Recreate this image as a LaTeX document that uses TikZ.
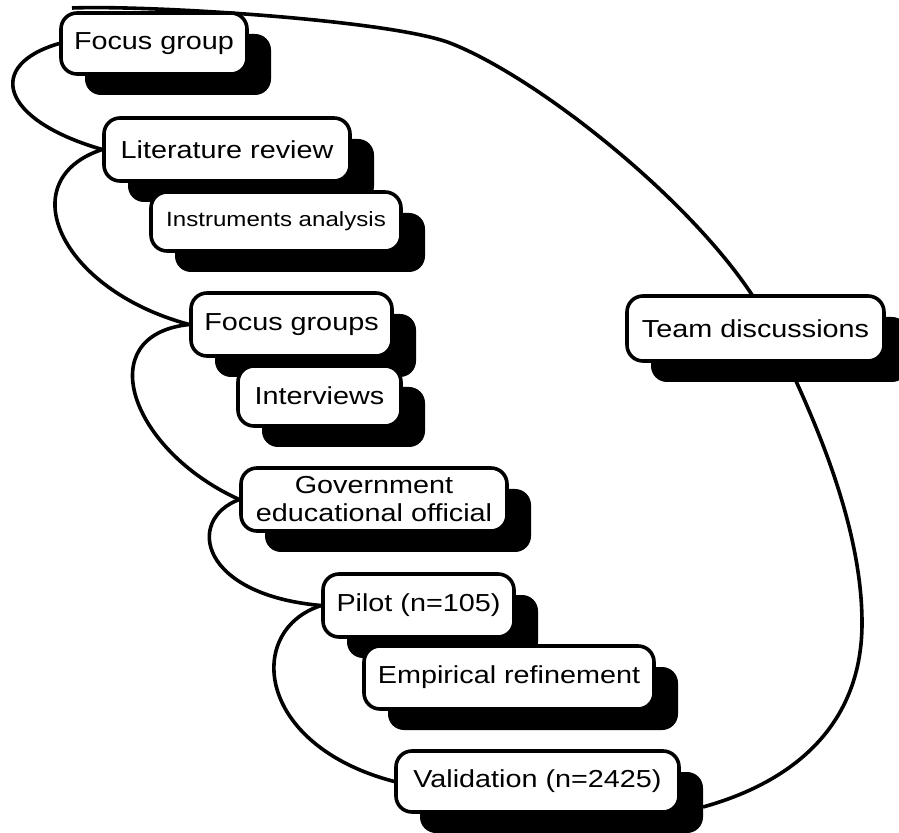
\documentclass[tikz,border=0pt]{standalone}
\usepackage{fontspec}
\setmainfont{Liberation Sans}[FakeStretch = 1.17]
\usetikzlibrary{shadows, backgrounds}

\begin{document}
\begin{tikzpicture}[x = 0.5pt, y = -0.5pt,
	phase/.style = {draw, line width = 1.8pt, fill = white, rounded corners = 8pt,
		align = center, inner sep = 0pt, font = \fontsize{12.3}{14}\selectfont,
		drop shadow = {shadow xshift = 12pt, shadow yshift = -10.5pt, fill = black, opacity = 1}},
	link/.style = {line width = 1.8pt}]

	\useasboundingbox (0, 0) rectangle (899, 833);

	% Boxes

	\node [phase, minimum width = 93pt, minimum height = 30.5pt] (focus) at (154, 43.5) {Focus group};
	\node [phase, minimum width = 123pt, minimum height = 31.5pt] (litrev) at (227, 149.5) {Literature review};
	\node [phase, minimum width = 125pt, minimum height = 29.5pt, font = \fontsize{10.3}{12}\selectfont] (instr) at (276, 221.5) {Instruments analysis};
	\node [phase, minimum width = 100.5pt, minimum height = 31.5pt] (groups) at (291.5, 324.5) {Focus groups};
	\node [phase, minimum width = 81.5pt, minimum height = 30pt] (interv) at (319.5, 396) {Interviews};
	\node [phase, minimum width = 133pt, minimum height = 31.5pt] (gov) at (374, 499.5) {Government\\educational official};
	\node [phase, minimum width = 95.5pt, minimum height = 31.5pt] (pilot) at (418.5, 605.5) {Pilot (n=105)};
	\node [phase, minimum width = 145pt, minimum height = 31.5pt] (empir) at (509, 677.5) {Empirical refinement};
	\node [phase, minimum width = 141.5pt, minimum height = 30.5pt] (valid) at (537.5, 781.5) {Validation (n=2425)};
	\node [phase, minimum width = 128.5pt, minimum height = 32.5pt] (team) at (755.5, 328.5) {Team discussions};

	% Loop points

	\coordinate (loopstart) at (72, 8);
	\coordinate (looptop) at (450, 43);
	\coordinate (loopmid) at (771, 328);
	\coordinate (loopright) at (862, 623);
	\coordinate (loopend) at (703, 807);

	% Links

	\begin{scope}[on background layer]
		\draw [link] (focus.west) .. controls (-15, 65) and (0, 120) .. (litrev.west);
		\draw [link] (litrev.west) .. controls (10, 180) and (60, 290) .. (groups.west);
		\draw [link] (groups.west) .. controls (90, 335) and (130, 450) .. (gov.west);
		\draw [link] (gov.west) .. controls (185, 520) and (200, 595) .. (pilot.west);
		\draw [link] (pilot.west) .. controls (245, 630) and (255, 745) .. (valid.west);

		\draw [link] (loopstart) .. controls (150, 5) and (390, 20) .. (looptop)
			.. controls (545, 80) and (721, 223) .. (loopmid)
			.. controls (801, 391) and (862, 513) .. (loopright)
			.. controls (862, 720) and (800, 780) .. (loopend);
	\end{scope}

\end{tikzpicture}
\end{document}
